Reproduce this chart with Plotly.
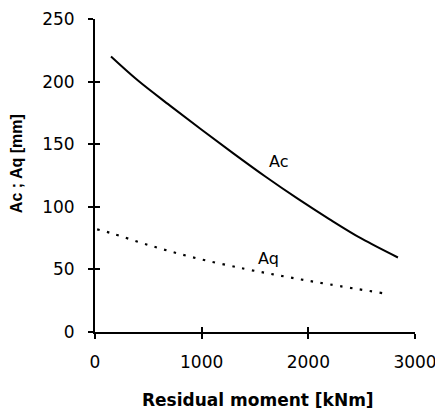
import plotly.graph_objects as go

# Data
x_ac = [150, 400, 700, 1000, 1300, 1600, 1900, 2200, 2500, 2840]
y_ac = [220, 201, 181, 161.5, 142.5, 124, 106.5, 90, 74.5, 59.5]

x_aq = [20, 150, 500, 900, 1400, 1800, 2200, 2700]
y_aq = [82, 79, 69.5, 60, 50.5, 44, 38, 31]

x_ticks = [0, 1000, 2000, 3000]
y_ticks = [0, 50, 100, 150, 200, 250]

labels = [("Ac", 1716, 136), ("Aq", 1622, 59)]

fig = go.Figure()
fig.add_trace(go.Scatter(x=x_ac, y=y_ac, mode="lines", line=dict(color="black", width=2),
                         line_shape="spline", showlegend=False, hoverinfo="skip"))
fig.add_trace(go.Scatter(x=x_aq, y=y_aq, mode="lines", line=dict(color="black", width=2.2, dash="2.5px,7.5px"),
                         line_shape="spline", showlegend=False, hoverinfo="skip"))
# invisible trace for the overlay axes (crossing ticks)
fig.add_trace(go.Scatter(x=[None], y=[None], xaxis="x2", yaxis="y2", showlegend=False, hoverinfo="skip"))

tickfont = dict(family="DejaVu Sans", size=17, color="black")
fig.update_layout(
    width=435, height=407,
    margin=dict(l=87, r=28, t=11, b=83, autoexpand=False),
    paper_bgcolor="white", plot_bgcolor="white",
    xaxis=dict(range=[0, 3000], tickvals=x_ticks, ticks="outside", ticklen=5, tickwidth=1.5,
               tickcolor="black", showline=True, linecolor="black", linewidth=2,
               showgrid=False, zeroline=False, tickfont=tickfont, ticklabelstandoff=9,
               automargin=False),
    yaxis=dict(range=[0, 250], tickvals=y_ticks, ticks="outside", ticklen=5, tickwidth=1.5,
               tickcolor="black", showline=True, linecolor="black", linewidth=2,
               showgrid=False, zeroline=False, tickfont=tickfont, ticklabelstandoff=10,
               automargin=False),
    xaxis2=dict(range=[0, 3000], tickvals=x_ticks, overlaying="x", anchor="y", ticks="inside",
                ticklen=5, tickwidth=1.5, tickcolor="black", showticklabels=False,
                showline=False, showgrid=False, zeroline=False, automargin=False),
    yaxis2=dict(range=[0, 250], tickvals=y_ticks, overlaying="y", anchor="x", ticks="inside",
                ticklen=5, tickwidth=1.5, tickcolor="black", showticklabels=False,
                showline=False, showgrid=False, zeroline=False, automargin=False),
)

for text, x, y in labels:
    fig.add_annotation(x=x, y=y, text=text, showarrow=False, xanchor="center", yanchor="middle",
                       font=dict(family="DejaVu Sans", size=16, color="black"))

fig.add_annotation(xref="paper", yref="paper", x=0.509, y=-0.217, text="<b>Residual moment [kNm]</b>",
                   showarrow=False, xanchor="center", yanchor="middle",
                   font=dict(family="DejaVu Sans", size=17, color="black"))
fig.add_annotation(xref="paper", yref="paper", x=-0.243, y=0.537, text="<b>Ac ; Aq [mm]</b>",
                   textangle=-90, showarrow=False, xanchor="center", yanchor="middle",
                   font=dict(family="Liberation Sans", size=16, color="black"))

fig.write_html("out.html")
